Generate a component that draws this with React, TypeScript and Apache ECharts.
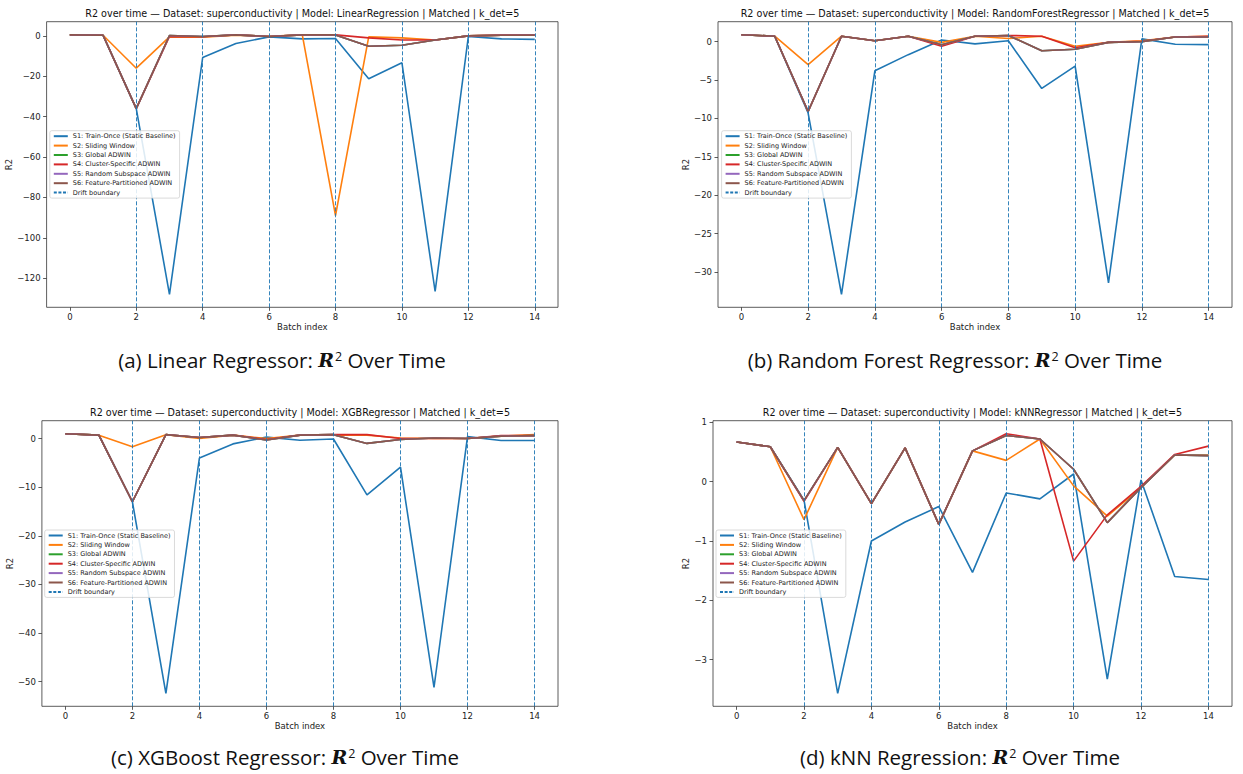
import React, { useEffect, useRef } from "react";
import * as echarts from "echarts";

const BATCHES = [0, 1, 2, 3, 4, 5, 6, 7, 8, 9, 10, 11, 12, 13, 14];
const DRIFT_BOUNDARIES = [2, 4, 6, 8, 10, 12, 14];
const X_TICKS = [0, 2, 4, 6, 8, 10, 12, 14];
const SERIES_NAMES = [
  "S1: Train-Once (Static Baseline)",
  "S2: Sliding Window",
  "S3: Global ADWIN",
  "S4: Cluster-Specific ADWIN",
  "S5: Random Subspace ADWIN",
  "S6: Feature-Partitioned ADWIN",
];
const DRIFT_NAME = "Drift boundary";
const COLORS = ["#1f77b4", "#ff7f0e", "#2ca02c", "#d62728", "#9467bd", "#8c564b"];

// (a) Linear Regression
const LR_S1 = [0.5, 0.3, -36, -128, -10.7, -3.8, -0.5, -1.5, -1.3, -21.2, -13.3, -126.6, -0.3, -1.5, -1.7];
const LR_S2 = [0.5, 0.3, -16, -0.5, -0.6, 0.4, -0.2, 0.5, -89, -0.5, -1, -2, 0, 0.4, 0.6];
const LR_S3 = [0.5, 0.3, -36, 0.2, -0.3, 0.5, -0.3, 0.5, 0.5, -5.1, -4.6, -2, 0, 0.3, 0.4];
const LR_S4 = [0.5, 0.3, -36, -0.3, -0.4, 0.5, -0.3, 0.5, 0.5, -1, -2, -2, 0, 0.4, 0.5];
const LR_S5 = [0.5, 0.3, -36, 0.2, -0.3, 0.5, -0.3, 0.5, 0.5, -5.1, -4.6, -2, 0, 0.3, 0.4];
const LR_S6 = [0.5, 0.3, -36, 0.2, -0.3, 0.5, -0.3, 0.5, 0.5, -5.1, -4.6, -2, 0, 0.3, 0.4];
const LR_Y_TICKS = [-120, -100, -80, -60, -40, -20, 0];

// (b) Random Forest
const RF_S1 = [0.9, 0.7, -9.3, -32.9, -3.8, -1.7, 0.2, -0.3, 0.1, -6.1, -3.2, -31.4, 0.35, -0.35, -0.4];
const RF_S2 = [0.9, 0.7, -3, 0.7, 0.1, 0.7, -0.1, 0.7, 0.4, 0.7, -0.6, -0.1, 0.1, 0.6, 0.7];
const RF_S3 = [0.9, 0.7, -9.1, 0.7, 0.1, 0.7, -0.4, 0.7, 0.8, -1.2, -1.0, -0.1, 0, 0.6, 0.6];
const RF_S4 = [0.9, 0.7, -9.1, 0.7, 0.1, 0.7, -0.6, 0.7, 0.8, 0.7, -0.8, -0.1, 0.05, 0.6, 0.7];
const RF_S5 = [0.9, 0.7, -9.1, 0.7, 0.1, 0.7, -0.4, 0.7, 0.8, -1.2, -1.0, -0.1, 0, 0.6, 0.6];
const RF_S6 = [0.9, 0.7, -9.1, 0.7, 0.1, 0.7, -0.4, 0.7, 0.8, -1.2, -1.0, -0.1, 0, 0.6, 0.6];
const RF_Y_TICKS = [-30, -25, -20, -15, -10, -5, 0];

// (c) XGBoost
const XGB_S1 = [1.0, 0.7, -13, -52.4, -4.0, -1.1, 0.3, -0.35, -0.1, -11.6, -5.9, -51.2, 0.4, -0.4, -0.4];
const XGB_S2 = [1.0, 0.7, -1.7, 0.8, 0, 0.7, 0, 0.7, 0.7, 0.7, 0.1, 0, 0, 0.5, 0.8];
const XGB_S3 = [1.0, 0.7, -13, 0.8, 0.2, 0.7, -0.3, 0.7, 0.8, -1.0, -0.2, 0.1, 0, 0.5, 0.6];
const XGB_S4 = [1.0, 0.7, -13, 0.8, 0.2, 0.7, -0.2, 0.7, 0.8, 0.8, 0, 0, 0, 0.6, 0.6];
const XGB_S5 = [1.0, 0.7, -13, 0.8, 0.2, 0.7, -0.3, 0.7, 0.8, -1.0, -0.2, 0.1, 0, 0.5, 0.6];
const XGB_S6 = [1.0, 0.7, -13, 0.8, 0.2, 0.7, -0.3, 0.7, 0.8, -1.0, -0.2, 0.1, 0, 0.5, 0.6];
const XGB_Y_TICKS = [-50, -40, -30, -20, -10, 0];

// (d) kNN
const KNN_S1 = [0.67, 0.59, -0.31, -3.57, -1.0, -0.68, -0.42, -1.53, -0.19, -0.29, 0.13, -3.33, 0.03, -1.6, -1.65];
const KNN_S2 = [0.67, 0.59, -0.64, 0.58, -0.37, 0.57, -0.72, 0.52, 0.36, 0.72, -0.07, -0.58, -0.1, 0.45, 0.45];
const KNN_S3 = [0.67, 0.59, -0.32, 0.58, -0.37, 0.57, -0.72, 0.52, 0.78, 0.72, 0.21, -0.69, -0.1, 0.45, 0.44];
const KNN_S4 = [0.67, 0.59, -0.33, 0.58, -0.37, 0.57, -0.72, 0.52, 0.81, 0.72, -1.34, -0.56, -0.08, 0.46, 0.6];
const KNN_S5 = [0.67, 0.59, -0.32, 0.58, -0.37, 0.57, -0.72, 0.52, 0.78, 0.72, 0.21, -0.69, -0.1, 0.45, 0.44];
const KNN_S6 = [0.67, 0.59, -0.32, 0.58, -0.37, 0.57, -0.72, 0.52, 0.78, 0.72, 0.21, -0.69, -0.1, 0.45, 0.44];
const KNN_Y_TICKS = [-3, -2, -1, 0, 1];

const FONT = "DejaVu Sans";
const CAPTION_FONT = "Open Sans";

const PANELS = [
  {
    model: "LinearRegression",
    caption: "(a) Linear Regressor: ",
    series: [LR_S1, LR_S2, LR_S3, LR_S4, LR_S5, LR_S6],
    yTicks: LR_Y_TICKS,
    grid: { left: 46.6, top: 21.7, width: 511.4, height: 285.6 },
    yNameGap: 29,
    legend: { left: 49.8, top: 130.7 },
    titleX: 302.3,
    titleY: 13.7,
    capX: 282,
    capY: 360,
  },
  {
    model: "RandomForestRegressor",
    caption: "(b) Random Forest Regressor: ",
    series: [RF_S1, RF_S2, RF_S3, RF_S4, RF_S5, RF_S6],
    yTicks: RF_Y_TICKS,
    grid: { left: 718, top: 21.7, width: 514, height: 285.6 },
    yNameGap: 23,
    legend: { left: 721.6, top: 130.7 },
    titleX: 975,
    titleY: 13.7,
    capX: 955,
    capY: 360,
  },
  {
    model: "XGBRegressor",
    caption: "(c) XGBoost Regressor: ",
    series: [XGB_S1, XGB_S2, XGB_S3, XGB_S4, XGB_S5, XGB_S6],
    yTicks: XGB_Y_TICKS,
    grid: { left: 41.9, top: 420.7, width: 516.1, height: 285.6 },
    yNameGap: 24,
    legend: { left: 44.7, top: 530 },
    titleX: 300,
    titleY: 412.7,
    capX: 285,
    capY: 757,
  },
  {
    model: "kNNRegressor",
    caption: "(d) kNN Regression: ",
    series: [KNN_S1, KNN_S2, KNN_S3, KNN_S4, KNN_S5, KNN_S6],
    yTicks: KNN_Y_TICKS,
    grid: { left: 713, top: 420.7, width: 519, height: 285.6 },
    yNameGap: 18,
    legend: { left: 716, top: 530 },
    titleX: 972.5,
    titleY: 412.7,
    capX: 960,
    capY: 757,
  },
];

const fmtNum = (v: number) => (v < 0 ? "\u2212" + String(-v) : String(v));

export default function App() {
  const ref = useRef<HTMLDivElement>(null);
  useEffect(() => {
    document.body.style.margin = "0";
    if (!ref.current) return;
    const chart = echarts.init(ref.current, null, { renderer: "svg" });

    const xMin = BATCHES[0] - 0.05 * (BATCHES[BATCHES.length - 1] - BATCHES[0]);
    const xMax = BATCHES[BATCHES.length - 1] + 0.05 * (BATCHES[BATCHES.length - 1] - BATCHES[0]);

    const grids: any[] = [];
    const xAxes: any[] = [];
    const yAxes: any[] = [];
    const series: any[] = [];
    const legends: any[] = [];
    const graphics: any[] = [];

    PANELS.forEach((p, gi) => {
      const all = p.series.flat();
      const dMin = Math.min(...all);
      const dMax = Math.max(...all);
      const pad = 0.05 * (dMax - dMin);
      grids.push({
        ...p.grid,
        show: true,
        borderColor: "#333",
        borderWidth: 0.8,
        backgroundColor: "transparent",
        containLabel: false,
      });
      xAxes.push({
        type: "value",
        gridIndex: gi,
        min: xMin,
        max: xMax,
        name: "Batch index",
        nameLocation: "middle",
        nameGap: 15,
        nameTextStyle: { fontFamily: FONT, fontSize: 8.5, color: "#222" },
        axisLine: { show: false, onZero: false },
        splitLine: { show: false },
        axisTick: { show: true, customValues: X_TICKS, length: 3.5, lineStyle: { color: "#333", width: 0.8 } },
        axisLabel: {
          customValues: X_TICKS,
          fontFamily: FONT,
          fontSize: 8.5,
          color: "#222",
          margin: 5,
          formatter: (v: number) => fmtNum(v),
        },
      });
      yAxes.push({
        type: "value",
        gridIndex: gi,
        min: dMin - pad,
        max: dMax + pad,
        name: "R2",
        nameLocation: "middle",
        nameGap: p.yNameGap,
        nameRotate: 90,
        nameTextStyle: { fontFamily: FONT, fontSize: 8.5, color: "#222" },
        axisLine: { show: false, onZero: false },
        splitLine: { show: false },
        axisTick: { show: true, customValues: p.yTicks, length: 3.5, lineStyle: { color: "#333", width: 0.8 } },
        axisLabel: {
          customValues: p.yTicks,
          fontFamily: FONT,
          fontSize: 8.5,
          color: "#222",
          margin: 6,
          formatter: (v: number) => fmtNum(v),
        },
      });
      p.series.forEach((vals, si) => {
        series.push({
          type: "line",
          name: SERIES_NAMES[si],
          xAxisIndex: gi,
          yAxisIndex: gi,
          data: BATCHES.map((b, i) => [b, vals[i]]),
          symbol: "none",
          showSymbol: false,
          color: COLORS[si],
          lineStyle: { color: COLORS[si], width: 1.6 },
          itemStyle: { color: COLORS[si] },
          z: 3,
          silent: true,
        });
      });
      series.push({
        type: "line",
        name: DRIFT_NAME,
        xAxisIndex: gi,
        yAxisIndex: gi,
        data: [],
        symbol: "none",
        color: COLORS[0],
        lineStyle: { color: COLORS[0], width: 1, type: [3, 1.6] },
        itemStyle: { color: COLORS[0] },
        z: 2,
        markLine: {
          silent: true,
          symbol: ["none", "none"],
          label: { show: false },
          lineStyle: { color: COLORS[0], width: 1, type: [4, 2], opacity: 0.9 },
          data: DRIFT_BOUNDARIES.map((x) => ({ xAxis: x })),
        },
      });
      legends.push({
        left: p.legend.left,
        top: p.legend.top,
        orient: "vertical",
        data: [...SERIES_NAMES, DRIFT_NAME],
        itemWidth: 14,
        itemHeight: 7,
        itemGap: 2.4,
        selectedMode: false,
        itemStyle: { opacity: 0 },
        textStyle: { fontFamily: FONT, fontSize: 6.5, color: "#222" },
        backgroundColor: "rgba(255,255,255,0.85)",
        borderColor: "#d0d0d0",
        borderWidth: 0.8,
        borderRadius: 2,
        padding: [2, 4, 2, 3],
        z: 10,
      });
      graphics.push({
        type: "text",
        x: p.titleX,
        y: p.titleY,
        style: {
          text: `R2 over time \u2014 Dataset: superconductivity | Model: ${p.model} | Matched | k_det=5`,
          fontFamily: FONT,
          fontSize: 9.6,
          fill: "#111",
          textAlign: "center",
          textVerticalAlign: "middle",
          align: "center",
          verticalAlign: "middle",
        },
      });
      graphics.push({
        type: "text",
        x: p.capX,
        y: p.capY,
        style: {
          text: `{t|${p.caption}}{r|R}{s|2}{t| Over Time}`,
          fontFamily: CAPTION_FONT,
          fontSize: 20.5,
          fill: "#111",
          textAlign: "center",
          textVerticalAlign: "middle",
          align: "center",
          verticalAlign: "middle",
          rich: {
            t: { fontFamily: CAPTION_FONT, fontSize: 20.5, fill: "#111", color: "#111" },
            r: {
              fontFamily: "DejaVu Serif",
              fontStyle: "italic",
              fontWeight: "bold",
              fontSize: 19,
              fill: "#111",
              color: "#111",
            },
            s: {
              fontFamily: CAPTION_FONT,
              fontSize: 12.5,
              fill: "#111",
              color: "#111",
              verticalAlign: "top",
              padding: [0, 0, 0, 1],
            },
          },
        },
      });
    });

    chart.setOption({
      animation: false,
      backgroundColor: "#ffffff",
      grid: grids,
      xAxis: xAxes,
      yAxis: yAxes,
      series,
      legend: legends,
      graphic: graphics,
    });
    return () => chart.dispose();
  }, []);
  return <div ref={ref} style={{ width: 1243, height: 774 }} />;
}
